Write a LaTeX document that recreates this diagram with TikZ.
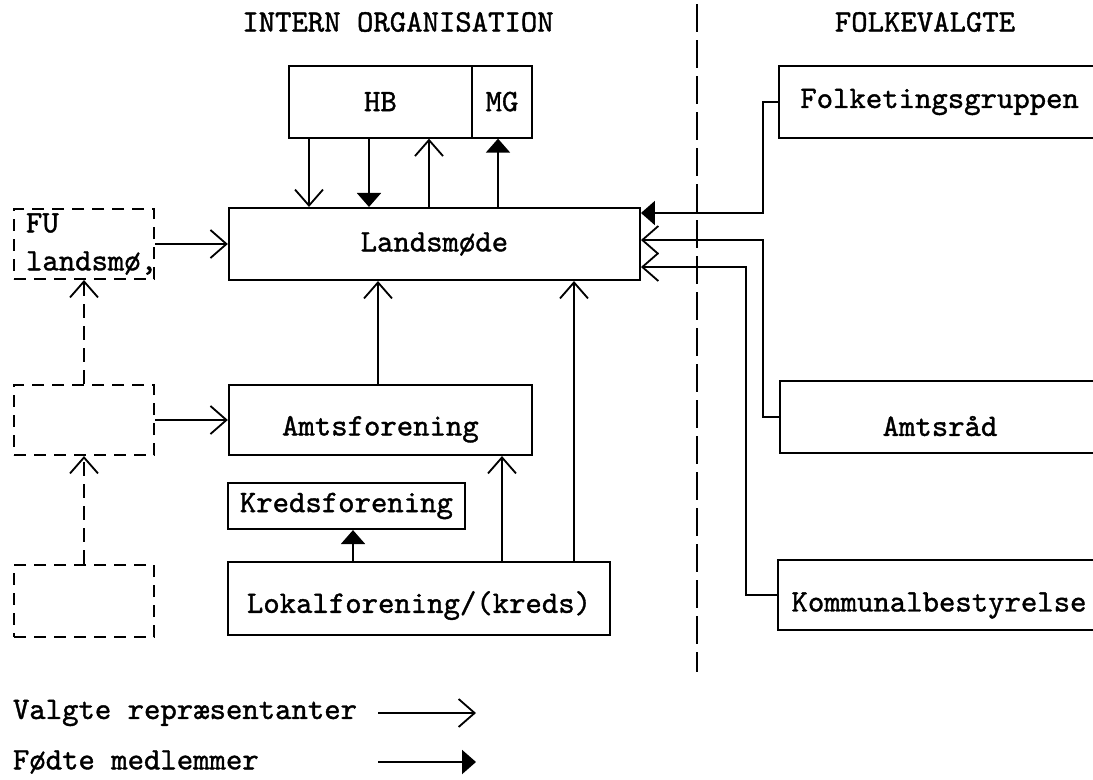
\documentclass[tikz,border=0pt]{standalone}
\usepackage{fontspec}
\newfontfamily\skrivemaskine{lmmono10-regular.otf}[FakeBold=1.2]
\usetikzlibrary{arrows.meta,positioning}
\newcommand{\tw}{\skrivemaskine\fontsize{22.2}{27}\selectfont}

\begin{document}
\begin{tikzpicture}[
  box/.style={draw, line width=1.5pt, font=\tw, inner sep=0pt,
    minimum height=1.8cm},
  dbox/.style={box, dash pattern=on 0.3cm off 0.2cm},
  valgt/.style={-{Straight Barb[length=0.4cm,width=0.7cm]}, line width=1.3pt},
  fodt/.style={-{Triangle[length=0.35cm,width=0.6cm]}, line width=1.5pt},
  dvalgt/.style={valgt, dash pattern=on 0.35cm off 0.2cm},
  skille/.style={line width=1.5pt, dash pattern=on 0.7cm off 0.2cm}
]
  \clip (0,0) rectangle (27.325,-19.475);

  % overskrifter
  \node[font=\tw] (intern) at (9.95,-0.55) {INTERN ORGANISATION};
  \node[font=\tw] (folkev) at (23.125,-0.55) {FOLKEVALGTE};
  \coordinate (s1) at (17.425,-0.1);
  \coordinate (s2) at (17.425,-16.8);
  \draw[skille] (s1) -- (s2);

  % intern organisation
  \node[box, minimum width=4.575cm] (hb) at (9.51,-2.54) {HB};
  \node[box, minimum width=1.5cm] (mg) at (12.55,-2.54) {MG};
  \node[box, minimum width=10.275cm] (lands) at (10.86,-6.1) {Landsmøde};
  \node[box, minimum width=7.575cm, minimum height=1.75cm, text height=0.95cm] (amts) at (9.51,-10.5) {Amtsforening};
  \node[box, minimum width=5.925cm, minimum height=1.15cm] (kreds) at (8.66,-12.65) {Kredsforening};
  \node[box, minimum width=9.55cm, minimum height=1.825cm, text height=0.9cm] (lokal) at (10.475,-14.96) {Lokalforening/(kreds)};

  % FU (stiplet)
  \node[dbox, minimum height=1.75cm, text width=2.9cm, inner xsep=0.3cm, align=left] (fu) at (2.1,-6.1) {FU\\landsmø,};
  \node[dbox, minimum width=3.5cm, minimum height=1.75cm] (fumid) at (2.1,-10.5) {};
  \node[dbox, minimum width=3.5cm] (fubund) at (2.1,-15.025) {};

  % folkevalgte
  \node[box, minimum width=8.025cm] (folk) at (23.49,-2.55) {Folketingsgruppen};
  \node[box, minimum width=8.0cm, text height=0.95cm] (amtsraad) at (23.5,-10.425) {Amtsråd};
  \node[box, minimum width=8.05cm, minimum height=1.75cm, text height=1.0cm] (kommunal) at (23.475,-14.875) {Kommunalbestyrelse};

  % lodrette forbindelser
  \coordinate (x1) at (7.725,0);
  \coordinate (x2) at (9.225,0);
  \coordinate (x3) at (10.725,0);
  \coordinate (x4) at (12.45,0);
  \coordinate (x5) at (9.45,0);
  \coordinate (x6) at (8.825,0);
  \coordinate (x7) at (12.55,0);
  \coordinate (x8) at (14.35,0);
  \draw[valgt] (hb.south -| x1) -- (lands.north -| x1);
  \draw[fodt] (hb.south -| x2) -- (lands.north -| x2);
  \draw[valgt] (lands.north -| x3) -- (hb.south -| x3);
  \draw[fodt] (lands.north -| x4) -- (mg.south -| x4);
  \draw[valgt] (amts.north -| x5) -- (lands.south -| x5);
  \draw[fodt] (lokal.north -| x6) -- (kreds.south -| x6);
  \draw[valgt] (lokal.north -| x7) -- (amts.south -| x7);
  \draw[valgt] (lokal.north -| x8) -- (lands.south -| x8);

  % venstre side
  \draw[valgt] (fu) -- (lands);
  \draw[valgt] (fumid) -- (amts);
  \draw[dvalgt] (fumid.north) -- (fu.south);
  \draw[dvalgt] (fubund.north) -- (fumid.south);

  % hoejre side
  \coordinate (k1) at (19.075,-5.325);
  \coordinate (k2) at (19.075,-6.0);
  \coordinate (k3) at (18.65,-6.675);
  \draw[fodt] (folk.west) -| (k1) -- (k1 -| lands.east);
  \draw[valgt] (amtsraad.west) -| (k2) -- (k2 -| lands.east);
  \draw[valgt] (kommunal.west) -| (k3) -- (k3 -| lands.east);

  % forklaring
  \node[font=\tw, anchor=west] (lv) at (0.2,-17.825) {Valgte repræsentanter};
  \node[font=\tw, anchor=west] (lf) at (0.2,-19.05) {Fødte medlemmer};
  \coordinate (lva) at (9.45,-17.825);
  \coordinate (lvb) at (11.9,-17.825);
  \coordinate (lfa) at (9.45,-19.05);
  \coordinate (lfb) at (11.9,-19.05);
  \draw[valgt] (lva) -- (lvb);
  \draw[fodt] (lfa) -- (lfb);
\end{tikzpicture}
\end{document}
